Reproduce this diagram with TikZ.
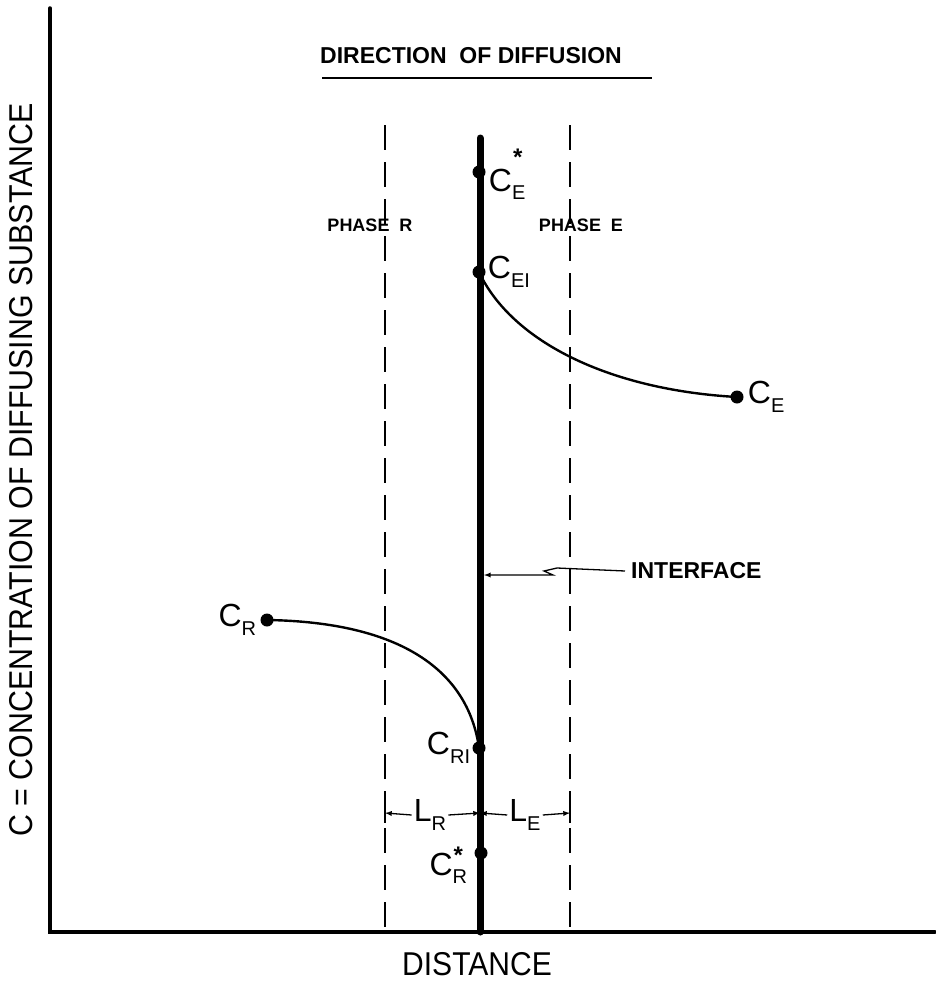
\documentclass[tikz,border=0pt]{standalone}
\usepackage{fontspec}
\setmainfont{Liberation Sans}
\usepackage{graphicx}
\usetikzlibrary{positioning}
\newcommand{\conc}[1]{C\raisebox{-0.5ex}{\fontsize{20}{20}\selectfont #1}}
\newcommand{\concstar}[2]{C\rlap{\raisebox{#2}{\kern1pt\fontsize{24}{24}\bfseries *}}\raisebox{-0.5ex}{\fontsize{20}{20}\selectfont #1}}

\begin{document}
\begin{tikzpicture}[x=1pt, y=-1pt, >=latex, font=\fontsize{32}{32}\selectfont,
    dot/.style={circle, fill, inner sep=0pt, minimum size=13pt},
    phaseline/.style={dash pattern=on 25pt off 12pt, line width=2.2pt},
    tag/.style={font=\bfseries\fontsize{18}{18}\selectfont, inner sep=0pt},
    dimarrow/.style={->, line width=1.3pt},
    clab/.style={inner sep=2pt}]
    % Bildbereich
    \useasboundingbox (0,0) rectangle (935,982);
    % Achsen zeichnen
    \coordinate (o) at (50,932);
    \draw[line width=3.5pt, line cap=round] (50,8) -- (o) -- (935,932);
    % Achsen beschriften
    \node[rotate=90, inner sep=0pt] (ylab) at (21,470) {\scalebox{0.92}[1]{\fontsize{33}{33}\selectfont C = CONCENTRATION OF DIFFUSING SUBSTANCE}};
    \node[inner sep=0pt, anchor=base] (xlab) at (477,975) {\scalebox{0.91}[1]{\fontsize{33}{33}\selectfont DISTANCE}};
    % Richtung
    \node[tag, font=\bfseries\fontsize{23}{23}\selectfont] (dir) at (471,56) {DIRECTION\ \ OF DIFFUSION};
    \draw[line width=1.6pt] (322,78) -- (652,78);
    % Phasengrenzen
    \draw[phaseline] (385,125) -- (385,932);
    \draw[phaseline] (570,125) -- (570,932);
    \node[tag] (phr) at (370,225) {PHASE\ \ R};
    \node[tag] (phe) at (581,225) {PHASE\ \ E};
    % Grenzflaeche
    \draw[line width=7pt, line cap=round] (480,138) -- (480,932);
    % Punkte
    \node[dot] (ce) at (737,397) {};
    \node[dot] (cr) at (267,620) {};
    \node[dot] (cestar) at (479,172) {};
    \node[dot] (cei) at (479,272) {};
    \node[dot] (cri) at (479,748) {};
    \node[dot] (crstar) at (481,853) {};
    % Kurven
    \draw[line width=2.4pt] (cei.center) .. controls (512,342) and (610,390) .. (ce.center);
    \draw[line width=2.4pt] (cr.center) .. controls (400,622) and (468,670) .. (cri.center);
    % Beschriftung
    \node[clab, right=1pt of cestar, yshift=-2pt] (lcestar) {\concstar{E}{26pt}};
    \node[clab, right=0pt of cei] {\conc{EI}};
    \node[clab, right=2pt of ce] {\conc{E}};
    \node[clab, left=2pt of cr] {\conc{R}};
    \node[clab, left=0pt of cri] {\conc{RI}};
    \node[clab, left=5pt of crstar, yshift=-12pt] (lcrstar) {\concstar{R}{12pt}};
    % Interface
    \coordinate (ifc) at (484,575);
    \node[tag, font=\bfseries\fontsize{23}{23}\selectfont, anchor=west] (itf) at (631,571) {INTERFACE};
    \draw[dimarrow] ([xshift=-6pt]itf.west) -- (557,568) -- (544,571) -- (553,575) -- (ifc);
    % Abstaende
    \coordinate (rl) at (385,813);
    \coordinate (mid) at (480,813);
    \coordinate (el) at (570,813);
    \draw[line width=1.6pt] (385,803) -- (385,823) (570,803) -- (570,823);
    \node[clab] (lr) at (430,815) {L\raisebox{-0.5ex}{\fontsize{20}{20}\selectfont R}};
    \node[clab] (le) at (525,815) {L\raisebox{-0.5ex}{\fontsize{20}{20}\selectfont E}};
    \draw[dimarrow] (lr.west) -- (rl);
    \draw[dimarrow] (lr.east) -- (mid);
    \draw[dimarrow] (le.west) -- (mid);
    \draw[dimarrow] (le.east) -- (el);
\end{tikzpicture}
\end{document}
